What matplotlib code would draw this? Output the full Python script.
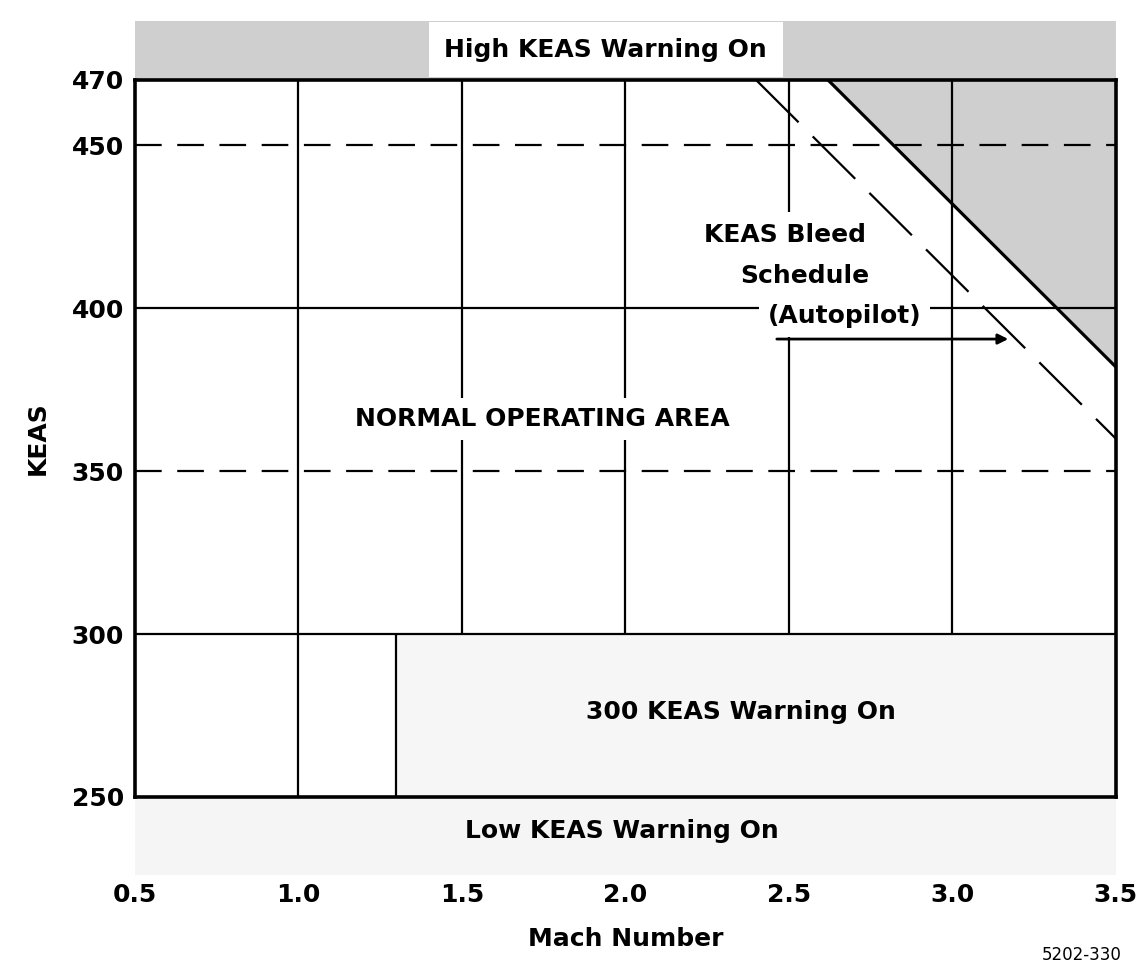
import matplotlib.pyplot as plt
from matplotlib.patches import Rectangle, Polygon

# axis ticks
mach_ticks = [0.5, 1.0, 1.5, 2.0, 2.5, 3.0, 3.5]
mach_labels = ['0.5', '1.0', '1.5', '2.0', '2.5', '3.0', '3.5']
keas_ticks = [250, 300, 350, 400, 450, 470]

# grid lines drawn on the chart
grid_mach = [1.0, 1.5, 2.0, 2.5, 3.0]
grid_bottom = [250, 300, 300, 300, 300]
solid_keas = [400, 300]
dashed_keas = [450, 350]
warn300_mach = 1.3

# limit line (upper) and KEAS bleed schedule (autopilot)
limit_mach = [2.62, 3.5]
limit_keas = [470, 382]
bleed_mach = [2.4, 3.5]
bleed_keas = [470, 360]

# bands outside the plot
high_band = [470, 488]
low_band = [226, 250]

x0, x1 = 0.5, 3.5
y0, y1 = 250, 470

plt.rcParams['font.weight'] = 'bold'
plt.rcParams['axes.labelweight'] = 'bold'

fig = plt.figure(figsize=(11.39, 9.68), dpi=100)
ax = fig.add_axes([0.1185, 0.1767, 0.8610, 0.7407])
ax.set_xlim(x0, x1)
ax.set_ylim(y0, y1)

fs = 18
dark = '#cfcfcf'

# high KEAS band above the axes
ax.add_patch(Rectangle((x0, high_band[0]), x1 - x0, high_band[1] - high_band[0],
                       facecolor=dark, edgecolor='none', clip_on=False, zorder=0))
# low KEAS band below the axes (faint speckle)
ax.add_patch(Rectangle((x0, low_band[0]), x1 - x0, low_band[1] - low_band[0],
                       facecolor='#f5f5f5', edgecolor='none', clip_on=False, zorder=0))
# 300 KEAS warning area
ax.add_patch(Rectangle((warn300_mach, y0), x1 - warn300_mach, 300 - y0,
                       facecolor='#f6f6f6', edgecolor='none', zorder=0))
# region above the limit line
ax.add_patch(Polygon([(limit_mach[0], limit_keas[0]), (x1, y1), (limit_mach[1], limit_keas[1])],
                     closed=True, facecolor=dark, edgecolor='none', zorder=0))

# grid
ax.vlines(grid_mach, grid_bottom, y1, colors='black', lw=1.6, zorder=1)
ax.vlines([warn300_mach], y0, 300, colors='black', lw=1.6, zorder=1)
ax.hlines(solid_keas, x0, x1, colors='black', lw=1.6, zorder=1)
ax.hlines(dashed_keas, x0, x1, colors='black', lw=1.6, linestyles=[(0, (12, 7))], zorder=1)

# limit and bleed lines
ax.plot(limit_mach, limit_keas, color='black', lw=2.3, zorder=3)
ax.plot(bleed_mach, bleed_keas, color='black', lw=1.6, ls=(0, (27, 9)), zorder=3)

white = dict(facecolor='white', edgecolor='none', boxstyle='square,pad=0.35')

ax.text(1.94, 479.2, 'High KEAS Warning On', ha='center', va='center', fontsize=fs,
        bbox=dict(facecolor='white', edgecolor='none', boxstyle='square,pad=0.62'), zorder=4)
ax.text(1.99, 239.5, 'Low KEAS Warning On', ha='center', va='center', fontsize=fs, zorder=4)
ax.text(1.745, 366, 'NORMAL OPERATING AREA', ha='center', va='center', fontsize=fs,
        bbox=white, zorder=4)
ax.text(2.355, 276, '300 KEAS Warning On', ha='center', va='center', fontsize=fs, zorder=4)
ax.text(2.49, 422.5, 'KEAS Bleed', ha='center', va='center', fontsize=fs,
        bbox=dict(facecolor='white', edgecolor='none', boxstyle='square,pad=0.45'), zorder=4)
ax.text(2.55, 410, 'Schedule', ha='center', va='center', fontsize=fs,
        bbox=white, zorder=4)
ax.text(2.67, 397.5, '(Autopilot)', ha='center', va='center', fontsize=fs,
        bbox=white, zorder=4)
ax.annotate('', xy=(3.18, 390.5), xytext=(2.455, 390.5),
            arrowprops=dict(arrowstyle='-|>', color='black', lw=2.0, mutation_scale=15),
            zorder=5)

for s in ax.spines.values():
    s.set_linewidth(2.6)
    s.set_zorder(6)

ax.set_xticks(mach_ticks)
ax.set_xticklabels(mach_labels)
ax.set_yticks(keas_ticks)
ax.tick_params(length=0, labelsize=fs)
ax.tick_params(axis='x', pad=62)
ax.tick_params(axis='y', pad=8)
ax.set_xlabel('Mach Number', fontsize=fs, labelpad=14)
ax.set_ylabel('KEAS', fontsize=fs, labelpad=16)

fig.text(0.985, 0.004, '5202-330', fontsize=12, ha='right', va='bottom', weight='normal')

fig.savefig('out.png', dpi=100)
